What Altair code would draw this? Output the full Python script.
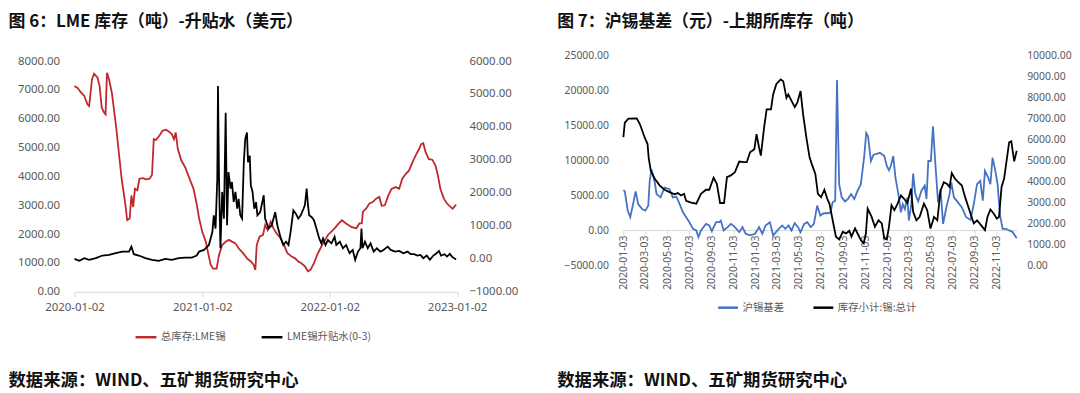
import altair as alt
import pandas as pd

FONT_CJK = "Noto Sans CJK SC"
FONT_NUM = "Noto Sans"

LEFT_TITLE = "图 6：LME 库存（吨）-升贴水（美元）"
RIGHT_TITLE = "图 7：沪锡基差（元）-上期所库存（吨）"
SOURCE = "数据来源：WIND、五矿期货研究中心"

LME_SERIES = ["总库存:LME锡", "LME锡升贴水(0-3)"]
SHFE_SERIES = ["沪锡基差", "库存小计:锡:总计"]

# ---- Figure 6 : LME tin stock (t) and 0-3 spread (USD); day offsets from 2020-01-02
lme_stock_day = [0, 9, 18, 28, 37, 42, 50, 56, 66, 72, 78, 85, 89, 93, 99, 107, 113, 120, 127, 135,
                 142, 146, 151, 158, 163, 168, 173, 180, 186, 196, 205, 215, 222, 227, 234, 243, 252,
                 262, 271, 279, 285, 290, 296, 306, 317, 328, 341, 350, 357, 366, 376, 382, 390, 397,
                 407, 414, 423, 433, 442, 451, 461, 470, 483, 494, 505, 513, 518, 522, 530, 540, 546,
                 553, 562, 570, 579, 591, 600, 610, 622, 632, 641, 650, 660, 669, 676, 686, 695, 707,
                 712, 726, 745, 757, 766, 778, 793, 807, 816, 823, 826, 835, 845, 854, 864, 873, 880,
                 889, 899, 908, 920, 930, 939, 949, 958, 968, 977, 987, 993, 999, 1006, 1015, 1025,
                 1034, 1041, 1048, 1058, 1067, 1076, 1083, 1093]
lme_stock_val = [7130, 7070, 6920, 6790, 6500, 6440, 7360, 7560, 7420, 7130, 6380, 6210, 6150, 7590,
                 7360, 6900, 6320, 5640, 4830, 3920, 3340, 3000, 2480, 2540, 3340, 2940, 3570, 3520,
                 3920, 3940, 3900, 3920, 4050, 5290, 5270, 5410, 5580, 5620, 5550, 5460, 5290, 5520,
                 4950, 4550, 4320, 3970, 3570, 3050, 2540, 2080, 1740, 1390, 940, 800, 800, 1280,
                 1620, 1740, 1800, 1740, 1680, 1510, 1340, 1160, 1050, 940, 760, 1620, 1910, 1970,
                 2310, 2140, 2430, 2200, 2020, 1850, 1620, 1340, 1220, 1160, 1050, 990, 880, 710,
                 760, 990, 1280, 1570, 1680, 1970, 2200, 2370, 2480, 2370, 2250, 2200, 2370, 2370,
                 2770, 2880, 3060, 3110, 3230, 3290, 2980, 3000, 3340, 3570, 3630, 3570, 3920, 4090,
                 4200, 4490, 4720, 4950, 5120, 5150, 4830, 4600, 4580, 4380, 4030, 3570, 3230, 3060,
                 2950, 2880, 3020]

lme_spread_day = [0, 14, 28, 42, 61, 80, 99, 118, 137, 156, 163, 170, 184, 203, 222, 241, 260, 279,
                  298, 317, 336, 350, 357, 371, 385, 395, 399, 404, 409, 411, 414, 418, 423, 428, 433,
                  437, 441, 447, 451, 456, 461, 466, 470, 475, 480, 485, 489, 494, 497, 502, 505, 510,
                  515, 520, 524, 532, 542, 546, 556, 565, 575, 581, 591, 598, 606, 613, 619, 627, 634,
                  641, 648, 656, 660, 665, 668, 672, 679, 686, 693, 701, 707, 712, 719, 726, 736, 745,
                  750, 760, 769, 778, 788, 797, 804, 812, 819, 822, 825, 832, 840, 848, 857, 866, 876,
                  885, 897, 906, 918, 930, 942, 954, 963, 973, 982, 991, 999, 1009, 1018, 1028, 1037,
                  1044, 1050, 1060, 1067, 1075, 1082, 1093]
lme_spread_val = [0, -60, 20, -30, 20, 100, 120, 170, 220, 220, 370, 140, 100, 20, -30, -60, 0, -30,
                  20, 40, 40, 100, 220, 270, 420, 820, 1320, 920, 2430, 5240, 2430, 320, 2030, 1220,
                  4430, 1020, 2630, 2130, 2330, 1730, 2030, 1520, 1820, 1320, 1220, 2930, 3630, 3830,
                  2930, 3130, 2230, 2030, 1520, 1720, 1320, 1420, 1930, 1220, 920, 1020, 1420, 1020,
                  620, 420, 520, 420, 820, 1470, 1370, 1220, 1320, 1520, 1630, 2130, 1720, 1320, 1270,
                  1170, 920, 620, 470, 620, 420, 570, 470, 670, 420, 520, 320, 420, 170, 270, -30, 220,
                  320, 920, 320, 520, 320, 470, 220, 320, 220, 270, 370, 270, 220, 240, 170, 220, 140,
                  140, 100, 120, 20, 100, -30, 100, 170, 240, 100, 140, 70, 150, 60, -20]

# ---- Figure 7 : SHFE tin basis (CNY) and SHFE stock (t); day offsets from 2020-01-03
shfe_basis_day = [0, 4, 12, 19, 25, 34, 41, 52, 61, 69, 73, 78, 87, 92, 103, 114, 128, 137, 147, 156,
                  165, 174, 183, 193, 202, 208, 215, 229, 238, 245, 257, 266, 270, 278, 289, 298, 309,
                  321, 330, 339, 351, 365, 376, 385, 394, 406, 415, 427, 440, 449, 458, 466, 475, 484,
                  491, 501, 510, 519, 528, 537, 546, 555, 567, 574, 580, 587, 592, 598, 605, 614, 622,
                  631, 640, 649, 658, 667, 673, 678, 686, 693, 702, 711, 723, 730, 736, 741, 748, 754,
                  762, 769, 774, 780, 787, 791, 798, 803, 809, 817, 826, 835, 840, 845, 852, 858, 864,
                  872, 879, 886, 895, 904, 909, 916, 927, 938, 950, 962, 971, 980, 989, 996, 1002, 1011,
                  1017, 1023, 1030, 1037, 1044, 1051, 1060, 1069, 1078, 1090]
shfe_basis_val = [5740, 5560, 2830, 1880, 3290, 5560, 3760, 3050, 2830, 3540, 7070, 8710, 6830, 5180,
                  4710, 6120, 5880, 4710, 4810, 3760, 2590, 1880, 1170, 230, 0, -950, 0, 940, 710,
                  -100, 1170, 1170, 1410, 0, 470, 940, 470, -240, 470, -470, -710, -470, 470, -470,
                  710, 1170, -710, 0, 710, 230, 710, 0, 1030, 470, -240, 940, 1170, 470, 940, 3540,
                  2120, 2450, 2450, 2590, 4000, 4240, 21440, 6590, 4710, 4140, 4470, 5180, 4470, 5660,
                  6590, 10360, 13900, 13430, 9900, 10750, 10930, 11070, 10600, 9190, 8570, 9190, 10600,
                  7540, 5180, 2590, 3760, 3050, 4710, 1410, 3760, 8100, 5180, 4140, 5660, 6360, 4470,
                  9900, 9900, 14850, 9900, 4000, 5880, 940, 3290, 5180, 6830, 4710, 4000, 3290, 1880,
                  1500, 3760, 6590, 7070, 4240, 8480, 7540, 6590, 10360, 8710, 6590, 2120, 230, 230,
                  0, -200, -1100]

shfe_stock_day = [0, 4, 14, 37, 46, 59, 67, 70, 76, 87, 101, 114, 128, 142, 151, 160, 168, 174, 188,
                  202, 215, 229, 238, 250, 259, 268, 279, 287, 298, 309, 321, 334, 342, 351, 363, 369,
                  376, 381, 390, 397, 409, 415, 424, 436, 443, 452, 457, 466, 475, 482, 491, 498, 507,
                  516, 522, 532, 539, 548, 557, 565, 571, 580, 589, 598, 608, 617, 626, 632, 642, 649,
                  658, 666, 672, 677, 688, 697, 707, 716, 723, 730, 736, 743, 751, 760, 769, 778, 787,
                  797, 803, 812, 821, 833, 842, 851, 861, 870, 879, 888, 897, 904, 910, 919, 928, 938,
                  947, 959, 971, 980, 991, 1002, 1009, 1017, 1026, 1035, 1041, 1048, 1055, 1062, 1069,
                  1075, 1083, 1090]
shfe_stock_val = [6100, 6790, 6980, 6990, 6710, 6085, 5770, 5140, 4510, 4120, 3800, 3600, 3490, 3380,
                  3440, 3330, 3410, 3070, 2990, 2940, 3410, 3600, 3600, 4170, 3880, 2970, 2970, 4200,
                  4280, 4430, 4940, 4910, 4910, 5380, 5530, 6240, 5610, 5220, 6560, 7420, 7420, 8130,
                  8630, 8840, 8760, 7970, 8130, 7820, 7530, 7740, 8290, 7190, 6090, 5140, 4830, 4350,
                  3410, 3250, 3600, 3170, 2940, 2150, 1370, 1240, 1600, 1520, 1650, 1370, 1760, 1520,
                  1210, 1050, 1520, 2700, 2310, 1840, 2150, 2000, 1290, 1240, 1840, 2860, 2630, 2940,
                  3330, 3170, 2970, 3650, 2550, 2150, 2310, 2940, 2630, 1760, 2310, 2150, 3570, 3960,
                  3880, 3730, 4390, 4120, 3960, 3800, 3250, 2630, 2000, 2150, 1920, 1680, 2310, 2660,
                  2470, 2230, 2310, 3730, 4120, 4990, 5850, 5900, 4950, 5450]

# axis tick labels
left_y1_ticks = [0, 1000, 2000, 3000, 4000, 5000, 6000, 7000, 8000]
left_y2_ticks = [-1000, 0, 1000, 2000, 3000, 4000, 5000, 6000]
right_y1_ticks = [-5000, 0, 5000, 10000, 15000, 20000, 25000]
right_y2_ticks = [0, 1000, 2000, 3000, 4000, 5000, 6000, 7000, 8000, 9000, 10000]
left_x_ticks = [(2020, 1, 2), (2021, 1, 2), (2022, 1, 2), (2023, 1, 2)]
right_x_ticks = [(y, m, 3) for y in (2020, 2021, 2022) for m in (1, 3, 5, 7, 9, 11)]

RED = "#C0282D"
BLACK = "#000000"
BLUE = "#4472C4"
GREY = "#595959"
LINE_GREY = "#D9D9D9"
DATE_LABEL = "utcFormat(datum.value, '%Y-%m-%d')"


def frame(start, days, vals, name):
    dates = (pd.Timestamp(start) + pd.to_timedelta(days, unit="D")).strftime("%Y-%m-%d")
    return pd.DataFrame({"date": list(dates), "value": vals, "series": name})


def dt(t):
    return alt.DateTime(year=t[0], month=t[1], date=t[2], utc=True)


def text_layer(txt, x, y, size, weight="bold", color="#111111"):
    return alt.Chart(pd.DataFrame({"t": [txt]})).mark_text(
        align="left", baseline="middle", font=FONT_CJK, fontSize=size,
        fontWeight=weight, color=color
    ).encode(text="t:N", x=alt.value(x), y=alt.value(y))


# ---------------- left panel ----------------
LW, LH = 385.5, 238.5
df_l1 = frame("2020-01-02", lme_stock_day, lme_stock_val, LME_SERIES[0])
df_l2 = frame("2020-01-02", lme_spread_day, lme_spread_val, LME_SERIES[1])

xl = alt.X("date:T", title=None,
           scale=alt.Scale(type="utc", domain=[dt(left_x_ticks[0]), dt(left_x_ticks[-1])]),
           axis=alt.Axis(values=[dt(t) for t in left_x_ticks], labelExpr=DATE_LABEL,
                         labelFlush=False, labelOverlap=False, domainColor=LINE_GREY, tickColor=LINE_GREY,
                         tickSize=5, labelPadding=5, labelFontSize=11.5, grid=False))

col_l = alt.Color("series:N",
                  scale=alt.Scale(domain=LME_SERIES, range=[RED, BLACK]),
                  legend=alt.Legend(orient="none", legendX=60, legendY=272, direction="horizontal",
                                    columns=2, title=None, symbolType="stroke", symbolSize=441,
                                    symbolStrokeWidth=2.5, labelFont=FONT_CJK, labelFontSize=10.5,
                                    labelColor=GREY, columnPadding=30, labelOffset=3))

l_red = alt.Chart(df_l1).mark_line(strokeWidth=1.8).encode(
    x=xl,
    y=alt.Y("value:Q", title=None,
            scale=alt.Scale(domain=[0, 8000], range=[LH, 6], nice=False, zero=False),
            axis=alt.Axis(orient="left", values=left_y1_ticks, format=".2f", domain=False, ticks=False,
                          grid=False, labelPadding=15, labelFontSize=11.5)),
    color=col_l)

l_black = alt.Chart(df_l2).mark_line(strokeWidth=1.8).encode(
    x=xl,
    y=alt.Y("value:Q", title=None,
            scale=alt.Scale(domain=[-1000, 6000], range=[LH, 6], nice=False, zero=False),
            axis=alt.Axis(orient="right", values=left_y2_ticks, format=".2f", domain=False, ticks=False,
                          grid=False, labelPadding=12, labelFontSize=11.5)),
    color=col_l)

left = alt.layer(
    l_red, l_black,
    text_layer(LEFT_TITLE, -66.5, -33, 17),
    text_layer(SOURCE, -66.5, 328, 17.5),
).resolve_scale(y="independent").properties(width=LW, height=LH)

# ---------------- right panel ----------------
RW, RH = 396.3, 212
df_r1 = frame("2020-01-03", shfe_basis_day, shfe_basis_val, SHFE_SERIES[0])
df_r2 = frame("2020-01-03", shfe_stock_day, shfe_stock_val, SHFE_SERIES[1])

xr = alt.X("date:T", title=None,
           scale=alt.Scale(type="utc", domain=[dt((2020, 1, 3)), dt((2022, 12, 28))]),
           axis=alt.Axis(values=[dt(t) for t in right_x_ticks], labelExpr=DATE_LABEL,
                         labelAngle=270, labelFlush=False, labelOverlap=False, offset=-35.7,
                         domainColor=LINE_GREY, tickColor=LINE_GREY, tickSize=4, labelPadding=1,
                         labelFontSize=10.5, grid=False))

col_r = alt.Color("series:N",
                  scale=alt.Scale(domain=SHFE_SERIES, range=[BLUE, BLACK]),
                  legend=alt.Legend(orient="none", legendX=94, legendY=243, direction="horizontal",
                                    columns=2, title=None, symbolType="stroke", symbolSize=400,
                                    symbolStrokeWidth=2.5, labelFont=FONT_CJK, labelFontSize=10.5,
                                    labelColor=GREY, columnPadding=24, labelOffset=3))

r_blue = alt.Chart(df_r1).mark_line(strokeWidth=1.8).encode(
    x=xr,
    y=alt.Y("value:Q", title=None,
            scale=alt.Scale(domain=[-5000, 25000], nice=False, zero=False),
            axis=alt.Axis(orient="left", values=right_y1_ticks, format=".2f", domain=False, ticks=False,
                          grid=False, labelPadding=15, labelFontSize=10.5)),
    color=col_r)

r_black = alt.Chart(df_r2).mark_line(strokeWidth=1.8).encode(
    x=xr,
    y=alt.Y("value:Q", title=None,
            scale=alt.Scale(domain=[0, 10000], nice=False, zero=False),
            axis=alt.Axis(orient="right", values=right_y2_ticks, format=".2f", domain=False, ticks=False,
                          grid=False, labelPadding=10, labelFontSize=10.5)),
    color=col_r)

right = alt.layer(
    r_blue, r_black,
    text_layer(RIGHT_TITLE, -66.7, -33, 17),
    text_layer(SOURCE, -66.7, 328, 17.5),
).resolve_scale(y="independent").properties(width=RW, height=RH)

chart = alt.hconcat(left, right, spacing=39).resolve_scale(color="independent").properties(
    padding={"left": 0, "top": 4, "right": 0, "bottom": 0}, background="white"
).configure_view(stroke=None).configure_axis(
    labelFont=FONT_NUM, labelColor=GREY
)

chart.save("out.html", embed_options={"renderer": "svg", "actions": False})
